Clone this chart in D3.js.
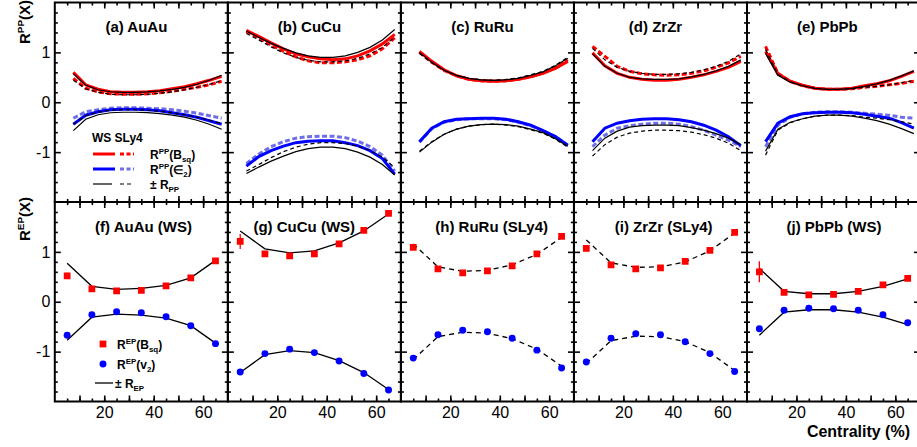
<!DOCTYPE html>
<html><head><meta charset="utf-8">
<script src="https://cdn.jsdelivr.net/npm/d3@7"></script>
<style>
body{margin:0;background:#fff}
svg{display:block}
text{font-family:"Liberation Sans",Arial,Helvetica,sans-serif}
</style>
</head><body>
<svg id="chart" width="917" height="447"></svg>
<script>
// ---------------- DATA ----------------
const systems = ["AuAu","CuCu","RuRu","ZrZr","PbPb"];
const topTitles = ["(a) AuAu","(b) CuCu","(c) RuRu","(d) ZrZr","(e) PbPb"];
const botTitles = ["(f) AuAu (WS)","(g) CuCu (WS)","(h) RuRu (SLy4)","(i) ZrZr (SLy4)","(j) PbPb (WS)"];
const botDashed = [false,false,true,true,false];

// centrality points of the R^PP curves (top row)
const centPP = [7.5,12.5,17.5,22.5,27.5,32.5,37.5,42.5,47.5,52.5,57.5,62.5,67.5];
// centrality points of the R^EP markers (bottom row)
const centEP = [5,15,25,35,45,55,65];

// R^PP(B_sq), WS (solid red)
const bsqWS = [
  [0.60,0.35,0.26,0.21,0.20,0.20,0.21,0.23,0.27,0.31,0.37,0.44,0.52],
  [1.44,1.32,1.19,1.07,0.97,0.91,0.87,0.85,0.87,0.93,1.03,1.17,1.36],
  [1.02,0.82,0.65,0.53,0.46,0.43,0.42,0.43,0.46,0.51,0.58,0.68,0.82],
  [0.99,0.73,0.58,0.50,0.46,0.44,0.44,0.46,0.50,0.55,0.62,0.70,0.82],
  [1.02,0.57,0.42,0.34,0.28,0.26,0.26,0.28,0.33,0.37,0.43,0.52,0.62]
];
// R^PP(B_sq), SLy4 (dashed red)
const bsqSLy = [
  [0.48,0.28,0.21,0.17,0.16,0.16,0.17,0.19,0.22,0.26,0.30,0.35,0.42],
  [1.42,1.29,1.15,1.02,0.91,0.83,0.79,0.79,0.81,0.85,0.93,1.07,1.29],
  [1.00,0.80,0.64,0.53,0.46,0.43,0.42,0.43,0.46,0.51,0.59,0.70,0.85],
  [1.12,0.92,0.72,0.62,0.57,0.55,0.54,0.55,0.58,0.63,0.70,0.79,0.92],
  [1.12,0.58,0.42,0.33,0.28,0.26,0.26,0.27,0.30,0.32,0.35,0.38,0.42]
];
// R^PP(eps2), WS (solid blue)
const e2WS = [
  [-0.44,-0.26,-0.19,-0.15,-0.14,-0.14,-0.15,-0.17,-0.21,-0.25,-0.30,-0.37,-0.44],
  [-1.28,-1.09,-0.97,-0.88,-0.81,-0.78,-0.77,-0.77,-0.81,-0.87,-0.97,-1.13,-1.44],
  [-0.79,-0.52,-0.39,-0.34,-0.33,-0.32,-0.32,-0.34,-0.39,-0.46,-0.57,-0.69,-0.86],
  [-0.79,-0.52,-0.42,-0.37,-0.34,-0.33,-0.33,-0.35,-0.39,-0.46,-0.56,-0.69,-0.87],
  [-0.79,-0.42,-0.29,-0.23,-0.21,-0.20,-0.20,-0.21,-0.24,-0.28,-0.32,-0.41,-0.52]
];
// R^PP(eps2), SLy4 (dashed light blue)
const e2SLy = [
  [-0.32,-0.19,-0.15,-0.12,-0.11,-0.11,-0.12,-0.13,-0.15,-0.18,-0.22,-0.27,-0.32],
  [-1.23,-1.04,-0.89,-0.79,-0.72,-0.69,-0.68,-0.68,-0.71,-0.78,-0.89,-1.06,-1.38],
  [-0.80,-0.53,-0.40,-0.35,-0.33,-0.33,-0.33,-0.35,-0.40,-0.47,-0.57,-0.69,-0.86],
  [-0.89,-0.66,-0.52,-0.47,-0.44,-0.42,-0.42,-0.44,-0.49,-0.56,-0.66,-0.76,-0.89],
  [-0.89,-0.46,-0.30,-0.23,-0.20,-0.19,-0.19,-0.20,-0.22,-0.24,-0.26,-0.30,-0.32]
];
// R_PP, WS (black solid, drawn as +/-)
const rppWS = [
  [0.57,0.34,0.25,0.21,0.20,0.20,0.21,0.23,0.26,0.30,0.36,0.44,0.54],
  [1.43,1.30,1.18,1.08,0.99,0.93,0.90,0.90,0.93,1.00,1.10,1.25,1.46],
  [1.00,0.80,0.64,0.54,0.48,0.45,0.44,0.45,0.48,0.54,0.61,0.73,0.88],
  [0.97,0.72,0.58,0.50,0.47,0.46,0.46,0.47,0.51,0.56,0.63,0.72,0.85],
  [0.98,0.54,0.40,0.33,0.28,0.26,0.26,0.28,0.32,0.37,0.44,0.53,0.63]
];
// R_PP, SLy4 (black dashed, drawn as +/-)
const rppSLy = [
  [0.44,0.27,0.20,0.16,0.15,0.15,0.16,0.18,0.21,0.25,0.30,0.36,0.43],
  [1.38,1.25,1.11,0.99,0.90,0.84,0.81,0.81,0.83,0.88,0.97,1.10,1.31],
  [0.98,0.79,0.64,0.54,0.48,0.45,0.44,0.46,0.49,0.55,0.62,0.74,0.90],
  [1.08,0.85,0.70,0.62,0.58,0.56,0.56,0.57,0.60,0.65,0.72,0.82,0.97],
  [1.06,0.56,0.41,0.33,0.28,0.26,0.26,0.27,0.30,0.32,0.35,0.39,0.44]
];
// R^EP(B_sq) red squares, with error
const epBsq = [
  [0.52,0.26,0.22,0.23,0.32,0.48,0.82],
  [1.21,0.96,0.92,0.96,1.16,1.43,1.77],
  [1.09,0.66,0.58,0.62,0.72,0.96,1.31],
  [1.07,0.74,0.66,0.68,0.81,1.03,1.39],
  [0.60,0.19,0.14,0.15,0.21,0.34,0.47]
];
const epBsqErr = [
  [0.06,0.01,0.01,0.01,0.01,0.01,0.01],
  [0.15,0.01,0.01,0.01,0.01,0.01,0.01],
  [0.03,0.01,0.01,0.01,0.01,0.01,0.01],
  [0.06,0.01,0.01,0.01,0.01,0.01,0.01],
  [0.21,0.02,0.01,0.01,0.01,0.01,0.01]
];
// R^EP(v2) blue circles
const epV2 = [
  [-0.67,-0.26,-0.20,-0.22,-0.30,-0.48,-0.84],
  [-1.41,-1.04,-0.95,-1.02,-1.19,-1.44,-1.77],
  [-1.13,-0.66,-0.57,-0.60,-0.73,-0.97,-1.33],
  [-1.21,-0.73,-0.64,-0.66,-0.80,-1.04,-1.40],
  [-0.54,-0.17,-0.13,-0.14,-0.17,-0.26,-0.42]
];
// R_EP (black line, drawn as +/-)
const rEP = [
  [0.77,0.31,0.25,0.27,0.33,0.48,0.83],
  [1.42,1.06,0.98,1.02,1.18,1.42,1.76],
  [1.16,0.70,0.61,0.63,0.74,0.95,1.29],
  [1.24,0.78,0.69,0.70,0.80,1.02,1.38],
  [0.67,0.21,0.16,0.16,0.21,0.31,0.46]
];
const yTickLabels = [-1,0,1];
const xTickLabels = [20,40,60];

// ---------------- LAYOUT / STYLE ----------------
const left0 = 54.8, panelW = 173.05;
const rowTop = [2.5, 202], rowH = 199.5;
const RED = "#ff0000", BLUE = "#0000ff", LBLUE = "#6e6ee6";
const topTitleC = [33,33,33,33,32.5];
const botTitleC = [35.9,30.9,36.7,36.3,35.2];

const svg = d3.select("#chart");
const xs = i => d3.scaleLinear().domain([0,70]).range([left0+i*panelW, left0+(i+1)*panelW]);
const ys = r => d3.scaleLinear().domain([-2,2]).range([rowTop[r]+rowH, rowTop[r]]);

function rich(g, x, y, parts, size, weight, transform){
  const t = g.append("text").attr("x",x).attr("y",y)
    .attr("font-size",size).attr("font-weight",weight||"normal").attr("fill","#000");
  if (transform) t.attr("transform",transform);
  let cur = 0;
  parts.forEach(p=>{
    const tgt = p.sup ? -0.42*size : (p.sub ? 0.28*size : 0);
    t.append("tspan").attr("dy", tgt-cur)
      .attr("font-size", (p.sup||p.sub) ? size*0.66 : size).text(p.t);
    cur = tgt;
  });
  return t;
}

const defs = svg.append("defs");

for (let r=0;r<2;r++){
  const y = ys(r);
  for (let i=0;i<5;i++){
    const x = xs(i);
    const x0 = x.range()[0], x1 = x.range()[1], yT = rowTop[r], yB = rowTop[r]+rowH;
    const g = svg.append("g");
    const cid = "clip"+r+"_"+i;
    defs.append("clipPath").attr("id",cid).append("rect")
      .attr("x",x0).attr("y",yT).attr("width",x1-x0).attr("height",yB-yT);

    // ticks via d3 axes (inward)
    const axes = [
      {mk:()=>d3.axisBottom(x), tr:`translate(0,${yB})`, kind:"x"},
      {mk:()=>d3.axisTop(x), tr:`translate(0,${yT})`, kind:"x"},
      {mk:()=>d3.axisLeft(y), tr:`translate(${x0},0)`, kind:"y"},
      {mk:()=>d3.axisRight(y), tr:`translate(${x1},0)`, kind:"y"}
    ];
    axes.forEach((a,k)=>{
      const minorVals = a.kind==="x" ? d3.range(5,70,5) : d3.range(-1.8,1.81,0.2).filter(v=>Math.abs(v-Math.round(v))>1e-6);
      const majorVals = a.kind==="x" ? d3.range(10,70,10) : [-1,0,1];
      const gm = g.append("g").attr("transform",a.tr)
        .call(a.mk().tickValues(minorVals).tickSize(-3).tickFormat(""));
      gm.select(".domain").remove();
      gm.selectAll("line").attr("stroke","#000").attr("stroke-width",1.6);
      let fmt = ()=> "";
      let pad = 4;
      if (a.kind==="x" && k===0 && r===1){ fmt = d => xTickLabels.includes(d) ? d : ""; pad = 5; }
      if (a.kind==="y" && k===2 && i===0){ fmt = d => yTickLabels.includes(d) ? (d<0?"-"+Math.abs(d):d) : ""; pad = 4.5; }
      const gM = g.append("g").attr("transform",a.tr)
        .call(a.mk().tickValues(majorVals).tickSize(-6).tickPadding(pad).tickFormat(fmt));
      gM.select(".domain").remove();
      gM.selectAll("line").attr("stroke","#000").attr("stroke-width",1.6);
      gM.attr("font-size",16).attr("font-family",'"Liberation Sans",Arial,Helvetica,sans-serif');
      gM.selectAll("text").attr("fill","#000");
    });

    const plot = g.append("g").attr("clip-path",`url(#${cid})`);
    const ln = d3.line().x(d=>x(d[0])).y(d=>y(d[1]));
    if (r===0){
      const pts = arr => centPP.map((c,j)=>[c,arr[j]]);
      const neg = arr => arr.map(v=>-v);
      plot.append("path").attr("d",ln(pts(bsqSLy[i]))).attr("fill","none").attr("stroke",RED).attr("stroke-width",3).attr("stroke-dasharray","5,2.5");
      plot.append("path").attr("d",ln(pts(e2SLy[i]))).attr("fill","none").attr("stroke",LBLUE).attr("stroke-width",3).attr("stroke-dasharray","5,2.5");
      plot.append("path").attr("d",ln(pts(bsqWS[i]))).attr("fill","none").attr("stroke",RED).attr("stroke-width",3);
      plot.append("path").attr("d",ln(pts(e2WS[i]))).attr("fill","none").attr("stroke",BLUE).attr("stroke-width",3);
      [rppWS[i], neg(rppWS[i])].forEach(a=>plot.append("path").attr("d",ln(pts(a))).attr("fill","none").attr("stroke","#000").attr("stroke-width",1.2));
      [rppSLy[i], neg(rppSLy[i])].forEach(a=>plot.append("path").attr("d",ln(pts(a))).attr("fill","none").attr("stroke","#000").attr("stroke-width",1.2).attr("stroke-dasharray","4,3"));
      g.append("text").attr("x",x(topTitleC[i])).attr("y",31.5).attr("text-anchor","middle")
        .attr("font-size",15).attr("font-weight","bold").text(topTitles[i]);
    } else {
      const pts = arr => centEP.map((c,j)=>[c,arr[j]]);
      [rEP[i], rEP[i].map(v=>-v)].forEach(a=>{
        const p = plot.append("path").attr("d",ln(pts(a))).attr("fill","none").attr("stroke","#000").attr("stroke-width",1.3);
        if (botDashed[i]) p.attr("stroke-dasharray","5,4");
      });
      centEP.forEach((c,j)=>{
        const e = epBsqErr[i][j];
        plot.append("line").attr("x1",x(c)).attr("x2",x(c)).attr("y1",y(epBsq[i][j]+e)).attr("y2",y(epBsq[i][j]-e))
          .attr("stroke",RED).attr("stroke-width",1.3);
      });
      plot.selectAll(null).data(centEP.map((c,j)=>[c,epBsq[i][j]])).enter().append("path")
        .attr("transform",d=>`translate(${x(d[0])},${y(d[1])})`)
        .attr("d",d3.symbol(d3.symbolSquare,46)()).attr("fill",RED);
      plot.selectAll(null).data(centEP.map((c,j)=>[c,epV2[i][j]])).enter().append("path")
        .attr("transform",d=>`translate(${x(d[0])},${y(d[1])})`)
        .attr("d",d3.symbol(d3.symbolCircle,38)()).attr("fill",BLUE);
      g.append("text").attr("x",x(botTitleC[i])).attr("y",232).attr("text-anchor","middle")
        .attr("font-size",15).attr("font-weight","bold").text(botTitles[i]);
    }
    g.append("rect").attr("x",x0).attr("y",yT).attr("width",x1-x0).attr("height",yB-yT)
      .attr("fill","none").attr("stroke","#000").attr("stroke-width",2);
  }
}

// y-axis titles
rich(svg, 0, 0, [{t:"R"},{t:"PP",sup:true},{t:"(X)"}], 15, "bold", "translate(30,44) rotate(-90)");
rich(svg, 0, 0, [{t:"R"},{t:"EP",sup:true},{t:"(X)"}], 15, "bold", "translate(30,241) rotate(-90)");

// x-axis title
svg.append("text").attr("x",910).attr("y",437).attr("text-anchor","end")
  .attr("font-size",16).attr("font-weight","bold").text("Centrality (%)");

// legend (a)
const lg = svg.append("g");
lg.append("text").attr("x",92).attr("y",142).attr("font-size",12).attr("font-weight","bold").text("WS");
lg.append("text").attr("x",114.5).attr("y",142).attr("font-size",12).attr("font-weight","bold").text("SLy4");
const legRows = [
  {y:154, c1:RED, c2:RED, w:3, parts:[{t:"R"},{t:"PP",sup:true},{t:"(B"},{t:"sq",sub:true},{t:")"}]},
  {y:169, c1:BLUE, c2:LBLUE, w:3, parts:[{t:"R"},{t:"PP",sup:true},{t:"(\u2208"},{t:"2",sub:true},{t:")"}]},
  {y:184, c1:"#000", c2:"#000", w:1.2, parts:[{t:"\u00b1 R"},{t:"PP",sub:true}]}
];
legRows.forEach(rw=>{
  lg.append("line").attr("x1",93).attr("x2",rw.w>2?115:112).attr("y1",rw.y).attr("y2",rw.y).attr("stroke",rw.c1).attr("stroke-width",rw.w);
  lg.append("line").attr("x1",120).attr("x2",134).attr("y1",rw.y).attr("y2",rw.y).attr("stroke",rw.c2).attr("stroke-width",rw.w)
    .attr("stroke-dasharray", rw.w>2 ? "4,2.5" : "4,3");
  rich(lg, 150, rw.y+5, rw.parts, 12, "bold");
});

// legend (f)
const lf = svg.append("g");
lf.append("path").attr("transform","translate(103,344)").attr("d",d3.symbol(d3.symbolSquare,46)()).attr("fill",RED);
lf.append("path").attr("transform","translate(103,364)").attr("d",d3.symbol(d3.symbolCircle,38)()).attr("fill",BLUE);
lf.append("line").attr("x1",95).attr("x2",113).attr("y1",383).attr("y2",383).attr("stroke","#000").attr("stroke-width",1.3);
rich(lf, 117, 349, [{t:"R"},{t:"EP",sup:true},{t:"(B"},{t:"sq",sub:true},{t:")"}], 12, "bold");
rich(lf, 117, 369, [{t:"R"},{t:"EP",sup:true},{t:"(v"},{t:"2",sub:true},{t:")"}], 12, "bold");
rich(lf, 115, 388, [{t:"\u00b1 R"},{t:"EP",sub:true}], 12, "bold");
</script>
</body></html>
